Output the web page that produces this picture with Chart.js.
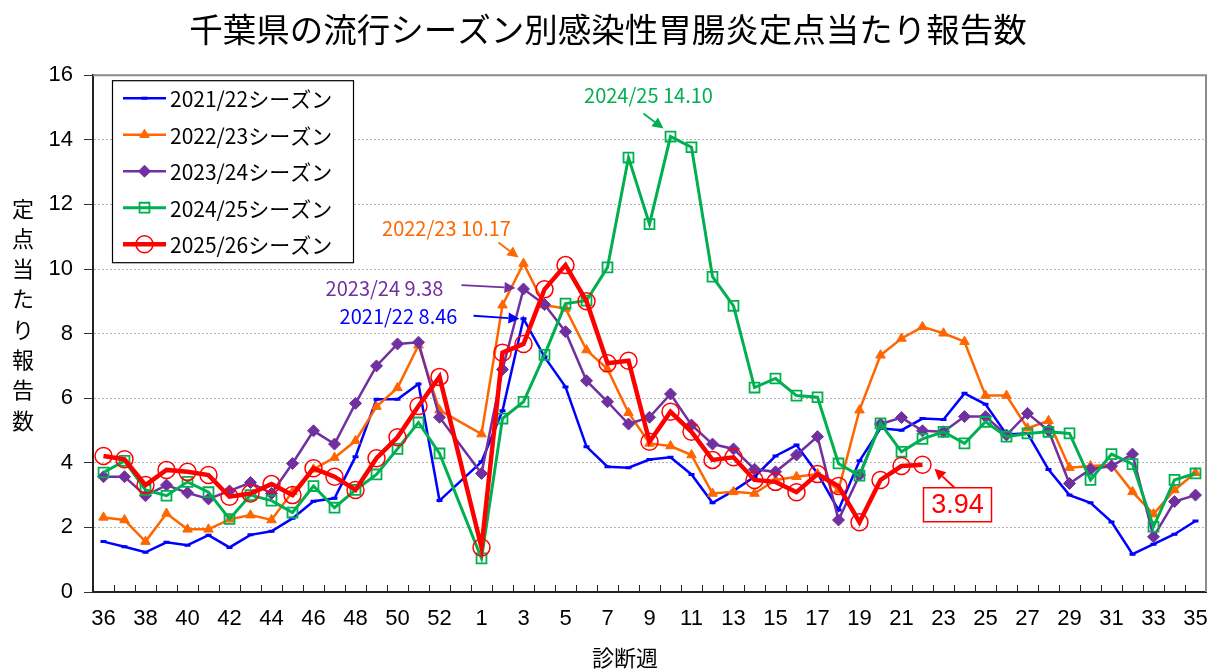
<!DOCTYPE html>
<html><head><meta charset="utf-8">
<script src="https://cdn.jsdelivr.net/npm/chart.js@4.4.0/dist/chart.umd.min.js"></script>
<style>html,body{margin:0;padding:0;background:#fff;}canvas{display:block;}</style>
</head><body>
<canvas id="c" width="1216" height="672"></canvas>
<script>
// ---- data ----
const weeks = ['36','37','38','39','40','41','42','43','44','45','46','47','48','49','50','51','52','53',
  '1','2','3','4','5','6','7','8','9','10','11','12','13','14','15','16','17','18','19','20',
  '21','22','23','24','25','26','27','28','29','30','31','32','33','34','35'];
const seasonNames = ['2021/22シーズン','2022/23シーズン','2023/24シーズン','2024/25シーズン','2025/26シーズン'];
const s2122 = [1.56,1.40,1.23,1.54,1.45,1.76,1.38,1.77,1.88,2.28,2.81,2.90,4.19,5.97,5.97,6.44,2.83,null,
  4.03,5.61,8.46,7.28,6.35,4.50,3.88,3.85,4.10,4.17,3.64,2.76,3.13,3.57,4.21,4.55,3.67,2.54,4.06,5.07,
  5.01,5.37,5.34,6.15,5.81,4.88,4.91,3.79,3.00,2.76,2.17,1.17,1.48,1.79,2.20];
const s2223 = [2.31,2.23,1.56,2.43,1.94,1.94,2.25,2.38,2.23,3.10,3.80,4.16,4.68,5.74,6.32,7.64,5.63,null,
  4.89,8.88,10.17,8.88,8.78,7.49,6.90,5.55,4.60,4.52,4.24,3.05,3.10,3.05,3.47,3.57,3.65,3.16,5.63,7.33,
  7.85,8.21,8.01,7.75,6.08,6.08,5.07,5.30,3.85,3.90,3.93,3.10,2.41,3.16,3.69];
const s2324 = [3.57,3.57,2.98,3.31,3.07,2.88,3.13,3.39,3.05,3.98,4.99,4.58,5.84,7.00,7.68,7.73,5.41,null,
  3.67,6.89,9.38,8.90,8.06,6.54,5.89,5.20,5.41,6.13,5.17,4.58,4.43,3.80,3.72,4.24,4.81,2.23,3.62,5.20,
  5.40,4.99,4.96,5.43,5.43,4.86,5.53,5.00,3.36,3.80,3.90,4.27,1.71,2.80,3.00];
const s2425 = [3.70,4.06,3.16,2.98,3.41,3.09,2.26,3.00,2.83,2.46,3.28,2.61,3.16,3.64,4.43,5.25,4.29,null,
  1.04,5.37,5.89,7.34,8.93,9.02,10.05,13.45,11.39,14.10,13.77,9.76,8.86,6.33,6.61,6.08,6.03,3.98,3.60,5.22,
  4.34,4.74,4.96,4.60,5.27,4.81,4.91,4.96,4.91,3.47,4.27,3.96,2.02,3.47,3.67];
const s2526 = [4.21,4.11,3.31,3.78,3.72,3.62,2.95,3.05,3.34,3.00,3.83,3.57,3.16,4.14,4.79,5.76,6.66,null,
  1.38,7.41,7.68,9.37,10.12,9.00,7.08,7.16,4.65,5.58,4.96,4.09,4.17,3.47,3.41,3.09,3.65,3.28,2.16,3.47,
  3.90,3.94,null,null,null,null,null,null,null,null,null,null,null,null,null];
const yTicks = [0,2,4,6,8,10,12,14,16];
const calloutTexts = ['2024/25 14.10','2022/23 10.17','2023/24 9.38','2021/22 8.46'];
const calloutSeries = [3,1,2,0];
const calloutWeekIdx = [27,20,20,20];
const latestIdx = 39;

const titleText = '千葉県の流行シーズン別感染性胃腸炎定点当たり報告数';
const yTitle = '定点当たり報告数';
const xTitle = '診断週';

// ---- styles ----
const JP = "'Noto Sans CJK JP', sans-serif";
const NUM = "'Liberation Sans', 'Noto Sans CJK JP', sans-serif";
const styles = [
  {color:'#0000FF', width:2.5, pointStyle:'line', radius:3, pbw:3, fill:'#0000FF', order:4},
  {color:'#FF6600', width:2.5, pointStyle:'triangle', radius:5.5, pbw:1, fill:'#FF6600', order:3},
  {color:'#7030A0', width:2.5, pointStyle:'rectRot', radius:6, pbw:1, fill:'#7030A0', order:2},
  {color:'#00B050', width:3, pointStyle:'rect', radius:7, pbw:1.8, fill:'rgba(0,0,0,0)', order:1},
  {color:'#FF0000', width:4.5, pointStyle:'circle', radius:8.5, pbw:1.5, fill:'rgba(0,0,0,0)', order:0}
];
const series = [s2122, s2223, s2324, s2425, s2526];

const datasets = series.map((d,i)=>({
  label: seasonNames[i], data: d,
  borderColor: styles[i].color, borderWidth: styles[i].width,
  pointStyle: styles[i].pointStyle, pointRadius: styles[i].radius,
  pointBorderWidth: styles[i].pbw, pointBorderColor: styles[i].color,
  pointBackgroundColor: styles[i].fill, order: styles[i].order,
  spanGaps: true, tension: 0, fill: false
}));

function arrow(ctx, x1, y1, x2, y2, color, w) {
  const ang = Math.atan2(y2-y1, x2-x1);
  const hl = 11, hw = 5.5;
  const bx = x2 - Math.cos(ang)*hl, by = y2 - Math.sin(ang)*hl;
  ctx.save();
  ctx.strokeStyle = color; ctx.fillStyle = color; ctx.lineWidth = w;
  ctx.beginPath(); ctx.moveTo(x1,y1); ctx.lineTo(bx,by); ctx.stroke();
  ctx.beginPath();
  ctx.moveTo(x2,y2);
  ctx.lineTo(bx + Math.sin(ang)*hw, by - Math.cos(ang)*hw);
  ctx.lineTo(bx - Math.sin(ang)*hw, by + Math.cos(ang)*hw);
  ctx.closePath(); ctx.fill();
  ctx.restore();
}

const decor = {
  id: 'decor',
  beforeDatasetsDraw(chart) {
    const {ctx, chartArea: a, scales: {x}} = chart;
    ctx.save();
    ctx.strokeStyle = '#8c8c8c'; ctx.lineWidth = 2;
    ctx.beginPath(); ctx.moveTo(a.left, a.top); ctx.lineTo(a.right, a.top); ctx.lineTo(a.right, a.bottom); ctx.stroke();
    ctx.strokeStyle = '#222'; ctx.lineWidth = 1;
    const half = (x.getPixelForValue(1) - x.getPixelForValue(0)) / 2;
    for (let i = 1; i < weeks.length; i++) {
      const px = Math.round(x.getPixelForValue(i) - half) + 0.5;
      ctx.beginPath(); ctx.moveTo(px, a.bottom); ctx.lineTo(px, a.bottom - 7); ctx.stroke();
    }
    ctx.restore();
  },
  afterDatasetsDraw(chart) {
    const {ctx, chartArea: a, scales: {x, y}} = chart;
    ctx.save();
    const lx = a.left + 19, ly = a.top + 5, lw = 241, lh = 182;
    ctx.fillStyle = '#fff'; ctx.fillRect(lx, ly, lw, lh);
    ctx.strokeStyle = '#000'; ctx.lineWidth = 1.2; ctx.strokeRect(lx+0.5, ly+0.5, lw, lh);
    seasonNames.forEach((name, i) => {
      const st = styles[i];
      const ry = ly + 18 + i * 36.5;
      ctx.strokeStyle = st.color; ctx.lineWidth = st.width;
      ctx.beginPath(); ctx.moveTo(lx + 11, ry); ctx.lineTo(lx + 54, ry); ctx.stroke();
      ctx.fillStyle = st.fill; ctx.strokeStyle = st.color; ctx.lineWidth = st.pbw;
      Chart.helpers.drawPoint(ctx, {pointStyle: st.pointStyle, radius: st.radius, rotation: 0, borderWidth: st.pbw}, lx + 32.5, ry);
      ctx.fillStyle = '#000'; ctx.font = '21px ' + JP; ctx.textBaseline = 'middle'; ctx.textAlign = 'left';
      ctx.fillText(name, lx + 58, ry + 1);
    });
    const offs = [
      {tx:-22, ty:-41, ax1:-27, ay1:-23, ax2:-7, ay2:-8},
      {tx:-77, ty:-35, ax1:-25, ay1:-21, ax2:-5, ay2:-6},
      {tx:-139, ty:-1, ax1:-62, ay1:-4, ax2:-8, ay2:-1},
      {tx:-125, ty:-2, ax1:-50, ay1:-3, ax2:-4, ay2:0}
    ];
    calloutTexts.forEach((t, k) => {
      const si = calloutSeries[k], wi = calloutWeekIdx[k];
      const px = x.getPixelForValue(wi), py = y.getPixelForValue(series[si][wi]);
      const o = offs[k], col = styles[si].color;
      ctx.fillStyle = col; ctx.font = '20px ' + JP; ctx.textAlign = 'center'; ctx.textBaseline = 'middle';
      ctx.fillText(t, px + o.tx, py + o.ty);
      arrow(ctx, px + o.ax1, py + o.ay1, px + o.ax2, py + o.ay2, col, 1.8);
    });
    const lpx = x.getPixelForValue(latestIdx), lpy = y.getPixelForValue(s2526[latestIdx]);
    const bx = lpx + 1, by = lpy + 23, bw = 68, bh = 34;
    ctx.fillStyle = '#fff'; ctx.fillRect(bx, by, bw, bh);
    ctx.strokeStyle = '#FF0000'; ctx.lineWidth = 1.5; ctx.strokeRect(bx, by, bw, bh);
    ctx.fillStyle = '#FF0000'; ctx.font = '27px ' + NUM; ctx.textAlign = 'center'; ctx.textBaseline = 'middle';
    ctx.fillText(s2526[latestIdx].toFixed(2), bx + bw/2, by + bh/2 + 1);
    arrow(ctx, lpx + 32, lpy + 23, lpx + 12, lpy + 4, '#FF0000', 1.8);
    ctx.fillStyle = '#000'; ctx.font = '22px ' + JP; ctx.textAlign = 'center'; ctx.textBaseline = 'middle';
    [...yTitle].forEach((ch, i) => ctx.fillText(ch, 23, a.top + 133 + i * 30.3));
    ctx.fillText(xTitle, 625, 658);
    ctx.restore();
  }
};

new Chart(document.getElementById('c'), {
  type: 'line',
  data: {labels: weeks, datasets},
  options: {
    responsive: false, animation: false,
    layout: {padding: {left: 0, right: 0, top: 0, bottom: 0}},
    plugins: {
      legend: {display: false}, tooltip: {enabled: false},
      title: {display: true, text: titleText, color: '#000',
        font: {family: JP, size: 33.5, weight: 'normal', lineHeight: 1.2},
        padding: {top: 9, bottom: 26}}
    },
    scales: {
      x: {
        type: 'category', offset: true,
        grid: {display: true, drawOnChartArea: false, drawTicks: false, offset: true},
        border: {display: true, color: '#222', width: 2},
        ticks: {autoSkip: false, maxRotation: 0, color: '#000', padding: 14,
          font: {family: NUM, size: 22},
          callback: (v, i) => (i % 2 === 0 ? weeks[i] : '')},
        afterFit: s => { s.height = 80; s.paddingLeft = 0; s.paddingRight = 0; }
      },
      y: {
        min: 0, max: 16,
        afterBuildTicks: s => { s.ticks = yTicks.map(v => ({value: v})); },
        grid: {color: '#b4b4b4', lineWidth: 1, tickLength: 9, tickColor: '#333', tickWidth: 1, tickBorderDash: []},
        border: {display: true, color: '#222', width: 2, dash: [2, 2]},
        ticks: {color: '#000', padding: 11, font: {family: NUM, size: 22}},
        afterFit: s => { s.width = 93; s.paddingTop = 0; s.paddingBottom = 0; }
      }
    }
  },
  plugins: [decor]
});
</script>
</body></html>
